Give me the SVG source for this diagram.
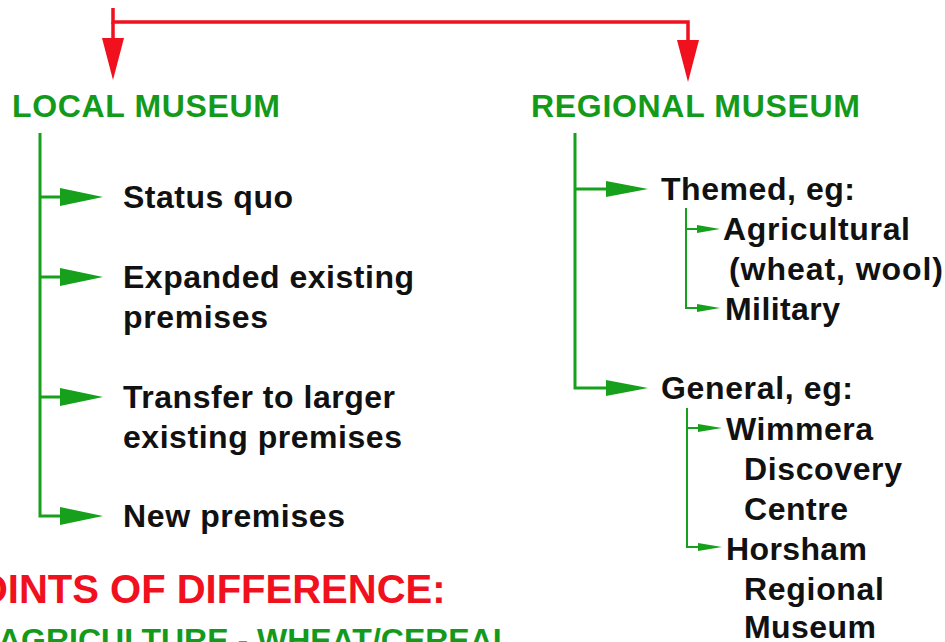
<svg xmlns="http://www.w3.org/2000/svg" width="945" height="642" viewBox="0 0 945 642">
<defs>
<style>
.t{font-family:"Liberation Sans",Arial,sans-serif;font-weight:bold;font-size:32px;fill:#111}
.h{font-family:"Liberation Sans",Arial,sans-serif;font-weight:bold;font-size:32px;fill:#149a1b}
.r{font-family:"Liberation Sans",Arial,sans-serif;font-weight:bold;font-size:40px;fill:#f0101e}
.g{stroke:#16a01c;stroke-width:3;fill:none}
.g2{stroke:#16a01c;stroke-width:2;fill:none}
.red{stroke:#f0101e;stroke-width:3.5;fill:none}
</style>
</defs>
<rect width="945" height="642" fill="#fff"/>
<g id="connectors">
<polyline class="red" points="113,8 113,22 688,22 688,42"/>
<line class="red" x1="113" y1="22" x2="113" y2="42"/>
<polygon points="102,38 124,38 113,80" fill="#f0101e"/>
<polygon points="677,40 699,40 688,82" fill="#f0101e"/>
<polyline class="g" points="40,133 40,516 62,516"/>
<line class="g" x1="40" y1="197" x2="62" y2="197"/>
<line class="g" x1="40" y1="277" x2="62" y2="277"/>
<line class="g" x1="40" y1="397" x2="62" y2="397"/>
<polygon points="60,188 103,197 60,206" fill="#16a01c"/>
<polygon points="60,268 103,277 60,286" fill="#16a01c"/>
<polygon points="60,388 103,397 60,406" fill="#16a01c"/>
<polygon points="60,507 103,516 60,525" fill="#16a01c"/>
<polyline class="g" points="575,133 575,388 610,388"/>
<line class="g" x1="575" y1="189" x2="610" y2="189"/>
<polygon points="606,181 648,189 606,197" fill="#16a01c"/>
<polygon points="606,380 648,388 606,396" fill="#16a01c"/>
<polyline class="g2" points="686,208 686,308 700,308"/>
<line class="g2" x1="686" y1="229" x2="700" y2="229"/>
<polygon points="697,225 720,229 697,233" fill="#16a01c"/>
<polygon points="697,304 720,308 697,312" fill="#16a01c"/>
<polyline class="g2" points="687,408 687,547 701,547"/>
<line class="g2" x1="687" y1="428" x2="701" y2="428"/>
<polygon points="698,424 722,428 698,432" fill="#16a01c"/>
<polygon points="698,543 722,547 698,551" fill="#16a01c"/>
</g>
<g id="local-museum"><text class="h" x="12" y="117" textLength="268">LOCAL MUSEUM</text></g>
<g id="regional-museum"><text class="h" x="531" y="117" textLength="329">REGIONAL MUSEUM</text></g>
<g id="status-quo"><text class="t" x="123" y="208" textLength="170">Status quo</text></g>
<g id="expanded"><text class="t" x="123" y="288" textLength="291">Expanded existing</text><text class="t" x="123" y="328" textLength="145">premises</text></g>
<g id="transfer"><text class="t" x="123" y="408" textLength="272">Transfer to larger</text><text class="t" x="123" y="448" textLength="279">existing premises</text></g>
<g id="new-premises"><text class="t" x="123" y="527" textLength="222">New premises</text></g>
<g id="themed"><text class="t" x="661" y="200" textLength="194">Themed, eg:</text></g>
<g id="agricultural"><text class="t" x="723" y="240" textLength="187">Agricultural</text><text class="t" x="729" y="280" textLength="214">(wheat, wool)</text></g>
<g id="military"><text class="t" x="725" y="320" textLength="115">Military</text></g>
<g id="general"><text class="t" x="661" y="399" textLength="192">General, eg:</text></g>
<g id="wimmera"><text class="t" x="726" y="440" textLength="147">Wimmera</text><text class="t" x="744" y="480" textLength="158">Discovery</text><text class="t" x="744" y="520" textLength="104">Centre</text></g>
<g id="horsham"><text class="t" x="726" y="560" textLength="141">Horsham</text><text class="t" x="744" y="600" textLength="140">Regional</text><text class="t" x="744" y="638" textLength="132">Museum</text></g>
<g id="points"><text class="r" x="-50" y="603">POINTS OF DIFFERENCE:</text></g>
<g id="agriculture"><text class="h" x="-2" y="651">AGRICULTURE - WHEAT/CEREAL</text></g>
</svg>
